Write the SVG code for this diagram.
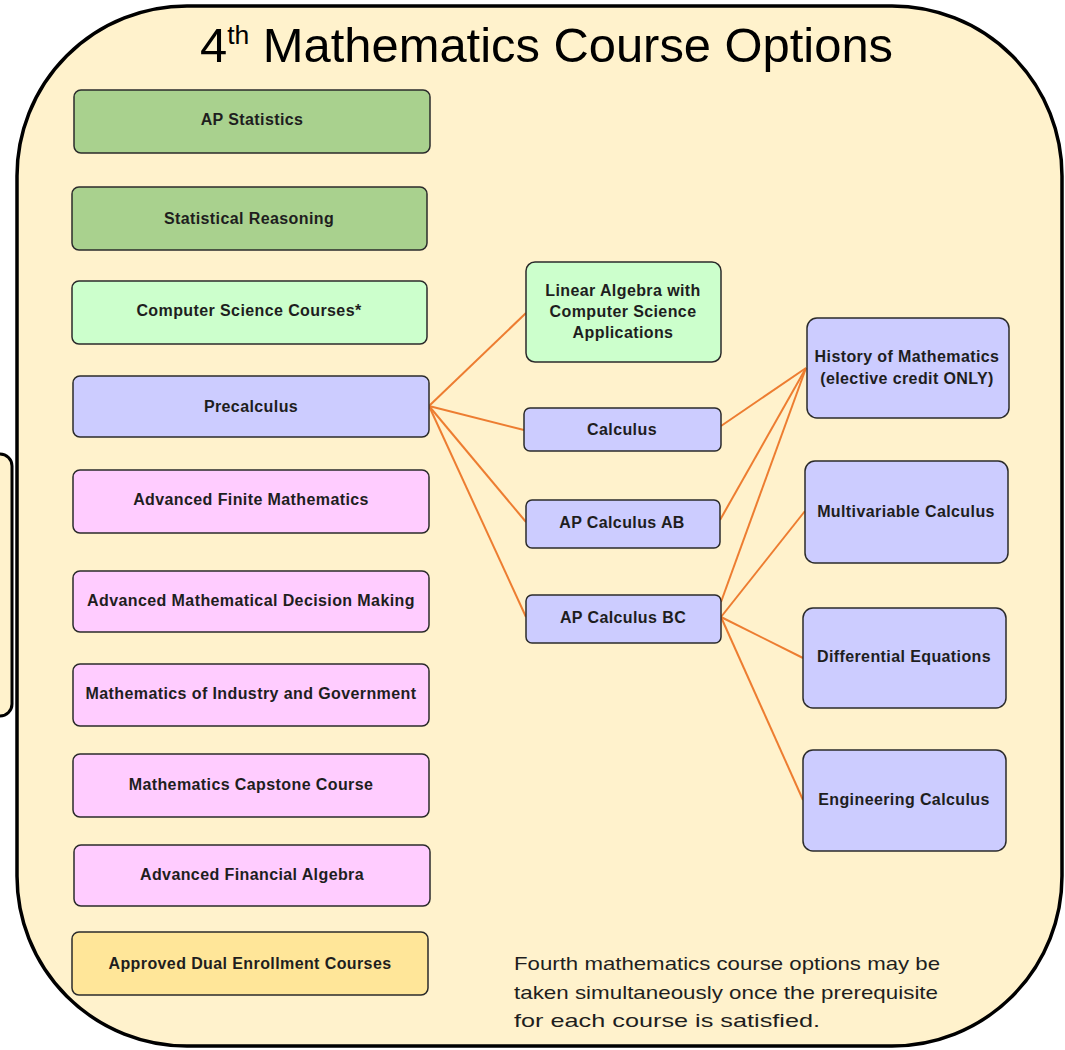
<svg xmlns="http://www.w3.org/2000/svg" width="1065" height="1050" viewBox="0 0 1065 1050">
<style>
.n rect{stroke:#2b2b2b;stroke-width:1.5}
.n text{font-family:"Liberation Sans",Arial,sans-serif;font-weight:bold;font-size:16px;letter-spacing:0.4px;fill:#1e1e1e;text-anchor:middle}
.g1{fill:#a9d18e}.g2{fill:#ccffcc}.bl{fill:#ccccff}.pk{fill:#ffccff}.yl{fill:#ffe699}
#connectors line{stroke:#ed7d31;stroke-width:2}
</style>
<rect width="1065" height="1050" fill="#ffffff"/>
<rect x="-20" y="454" width="32" height="262" rx="12" fill="#fff2cc" stroke="#000" stroke-width="3"/>
<rect id="frame" x="17" y="6" width="1045" height="1040" rx="170" ry="170" fill="#fff2cc" stroke="#000" stroke-width="3.5"/>
<text x="200" y="62" font-family="Liberation Sans,Arial,sans-serif" font-size="48" fill="#000" textLength="693" lengthAdjust="spacingAndGlyphs">4<tspan dy="-18" font-size="26">th</tspan><tspan dy="18"> Mathematics Course Options</tspan></text>
<g id="connectors">
<line x1="429" y1="406" x2="526" y2="313"/>
<line x1="429" y1="406" x2="524" y2="430"/>
<line x1="429" y1="406" x2="526" y2="522"/>
<line x1="429" y1="406" x2="526" y2="617"/>
<line x1="721" y1="426" x2="806" y2="368"/>
<line x1="720" y1="520" x2="806" y2="368"/>
<line x1="721" y1="602" x2="806" y2="368"/>
<line x1="721" y1="617" x2="805" y2="511"/>
<line x1="721" y1="617" x2="803" y2="658"/>
<line x1="721" y1="617" x2="803" y2="800"/>
</g>
<g id="n-apstat" class="n"><rect class="g1" x="74" y="90" width="356" height="63" rx="7"/><text x="252" y="125">AP Statistics</text></g>
<g id="n-statreason" class="n"><rect class="g1" x="72" y="187" width="355" height="63" rx="7"/><text x="249" y="224">Statistical Reasoning</text></g>
<g id="n-cs" class="n"><rect class="g2" x="72" y="281" width="355" height="63" rx="7"/><text x="249" y="316">Computer Science Courses*</text></g>
<g id="n-precalc" class="n"><rect class="bl" x="73" y="376" width="356" height="61" rx="7"/><text x="251" y="412">Precalculus</text></g>
<g id="n-afm" class="n"><rect class="pk" x="73" y="470" width="356" height="63" rx="7"/><text x="251" y="505">Advanced Finite Mathematics</text></g>
<g id="n-amdm" class="n"><rect class="pk" x="73" y="571" width="356" height="61" rx="7"/><text x="251" y="606">Advanced Mathematical Decision Making</text></g>
<g id="n-mig" class="n"><rect class="pk" x="73" y="664" width="356" height="62" rx="7"/><text x="251" y="699">Mathematics of Industry and Government</text></g>
<g id="n-capstone" class="n"><rect class="pk" x="73" y="754" width="356" height="63" rx="7"/><text x="251" y="790">Mathematics Capstone Course</text></g>
<g id="n-afa" class="n"><rect class="pk" x="74" y="845" width="356" height="61" rx="7"/><text x="252" y="880">Advanced Financial Algebra</text></g>
<g id="n-dual" class="n"><rect class="yl" x="72" y="932" width="356" height="63" rx="7"/><text x="250" y="969">Approved Dual Enrollment Courses</text></g>
<g id="n-linalg" class="n"><rect class="g2" x="526" y="262" width="195" height="100" rx="9"/><text x="623" y="296">Linear Algebra with</text><text x="623" y="317">Computer Science</text><text x="623" y="338">Applications</text></g>
<g id="n-calc" class="n"><rect class="bl" x="524" y="408" width="197" height="43" rx="6"/><text x="622" y="435">Calculus</text></g>
<g id="n-ab" class="n"><rect class="bl" x="526" y="500" width="194" height="48" rx="6"/><text x="622" y="528">AP Calculus AB</text></g>
<g id="n-bc" class="n"><rect class="bl" x="526" y="595" width="195" height="48" rx="6"/><text x="623" y="623">AP Calculus BC</text></g>
<g id="n-hist" class="n"><rect class="bl" x="807" y="318" width="202" height="100" rx="10"/><text x="907" y="362">History of Mathematics</text><text x="907" y="384">(elective credit ONLY)</text></g>
<g id="n-multi" class="n"><rect class="bl" x="805" y="461" width="203" height="102" rx="10"/><text x="906" y="517">Multivariable Calculus</text></g>
<g id="n-diffeq" class="n"><rect class="bl" x="803" y="608" width="203" height="100" rx="10"/><text x="904" y="662">Differential Equations</text></g>
<g id="n-eng" class="n"><rect class="bl" x="803" y="750" width="203" height="101" rx="10"/><text x="904" y="805">Engineering Calculus</text></g>
<g font-family="Liberation Sans,Arial,sans-serif" font-size="19" fill="#1e1e1e">
<text x="514" y="970" textLength="426" lengthAdjust="spacingAndGlyphs">Fourth mathematics course options may be</text>
<text x="514" y="999" textLength="424" lengthAdjust="spacingAndGlyphs">taken simultaneously once the prerequisite</text>
<text x="514" y="1027" textLength="306" lengthAdjust="spacingAndGlyphs">for each course is satisfied.</text>
</g>
</svg>
